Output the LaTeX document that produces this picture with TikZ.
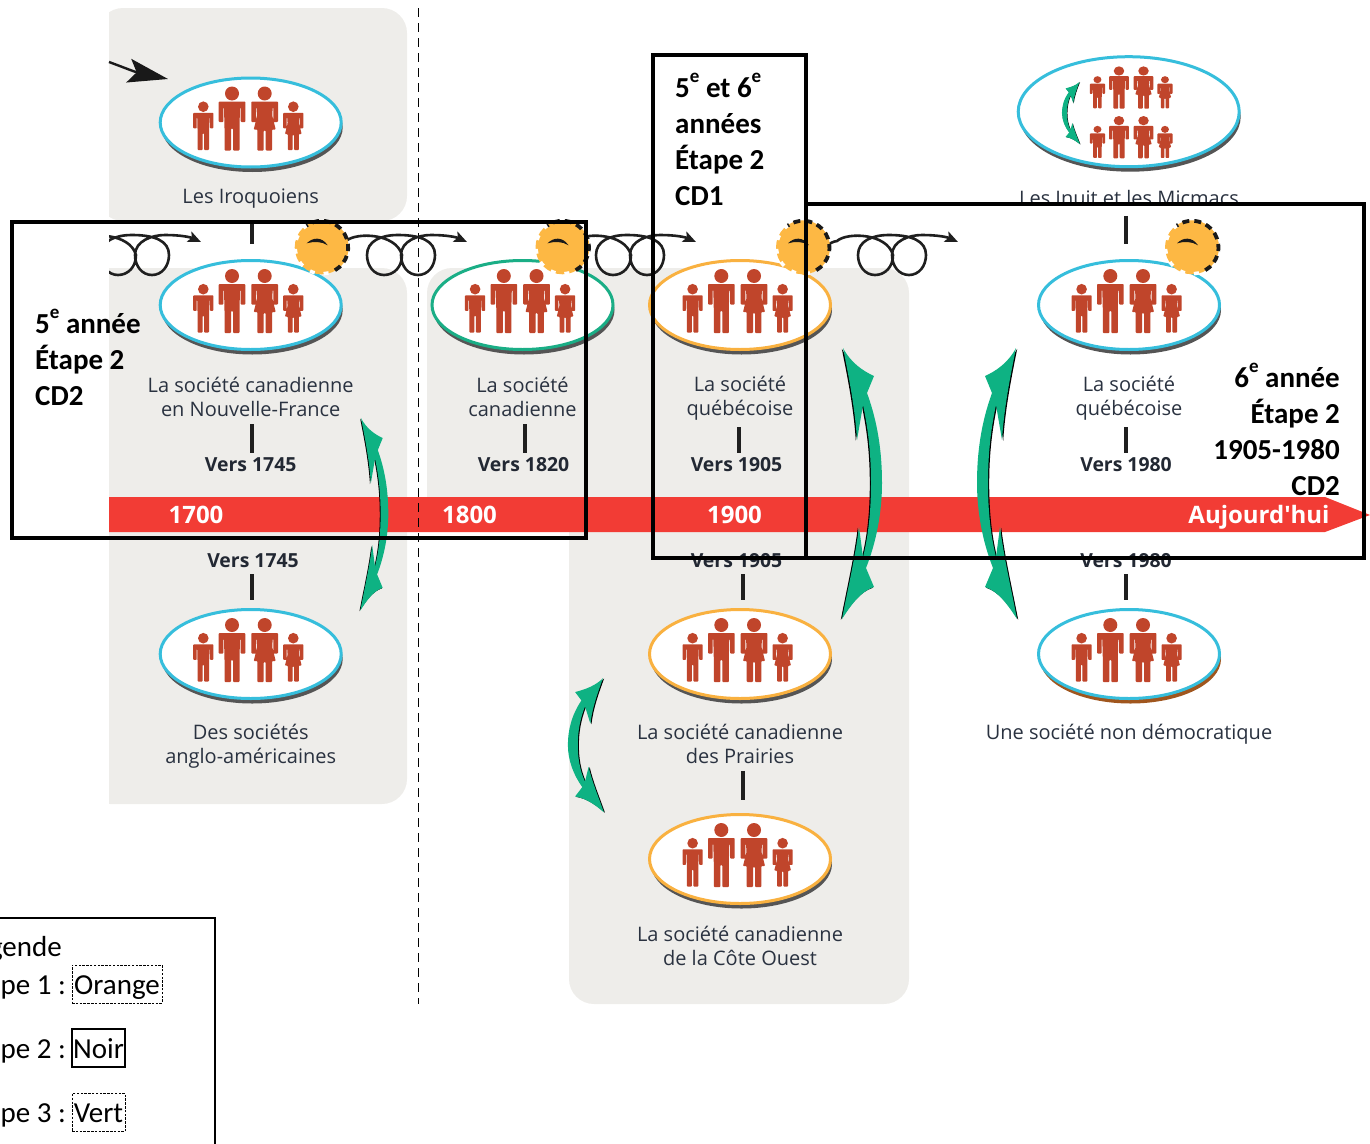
\documentclass[tikz,border=0pt]{standalone}
\usepackage{fontspec}
\setmainfont{Open Sans}
\newfontfamily\calibri{Carlito}
\usetikzlibrary{shapes.geometric,shadows,arrows.meta}

\definecolor{panelgrey}{HTML}{EEEDEA}
\definecolor{barred}{HTML}{F23C35}
\definecolor{skyline}{HTML}{36BEDC}
\definecolor{greenline}{HTML}{1AAE86}
\definecolor{orangeline}{HTML}{F9B140}
\definecolor{sunfill}{HTML}{FDB844}
\definecolor{figurered}{HTML}{C0452B}
\definecolor{arrowgreen}{HTML}{0EB283}
\definecolor{shadowgrey}{HTML}{555555}
\definecolor{shadowbrown}{HTML}{A0561E}
\definecolor{labelink}{HTML}{2A3240}

\newcommand{\manshape}{(-13.3,8) -- (13.3,8) -- (13.3,28.5) -- (8.7,28.5) -- (8.7,14) -- (8,14) -- (7.5,34) -- (7.5,57) -- (1,57) -- (1,35) -- (-1,35) -- (-1,57) -- (-7.5,57) -- (-7.5,34) -- (-8,14) -- (-8.7,14) -- (-8.7,28.5) -- (-13.3,28.5) -- cycle}
\newcommand{\womanshape}{(-13.3,8) -- (13.3,8) -- (13.3,28.5) -- (8.7,28.5) -- (8.7,14) -- (8,14) -- (7.5,22) -- (11,36) -- (7.3,36) -- (7.3,57) -- (1,57) -- (1,37) -- (-1,37) -- (-1,57) -- (-7.3,57) -- (-7.3,36) -- (-11,36) -- (-7.5,22) -- (-8,14) -- (-8.7,14) -- (-8.7,28.5) -- (-13.3,28.5) -- cycle}
\newcommand{\supe}{\raisebox{.5em}{\fontsize{19}{19}\selectfont e}}
\newcommand{\exchangeshape}{(0,-135) .. controls (8,-120) and (20,-112) .. (31,-107) -- (24,-90) .. controls (35,-60) and (39,-30) .. (39,0) .. controls (39,30) and (33,60) .. (23,85) -- (31,104) .. controls (18,108) and (8,122) .. (-1,136) .. controls (6,100) and (12,75) .. (16,44) -- (20,74) .. controls (26,50) and (28,25) .. (28,0) .. controls (28,-25) and (26,-50) .. (20,-78) -- (14,-43) .. controls (12,-75) and (6,-105) .. cycle}

\tikzset{
    panel/.style={fill=panelgrey,rounded corners=25pt},
    soc/.style 2 args={ellipse,draw=#1,line width=3pt,fill=white,inner sep=0pt,minimum width=181pt,minimum height=89pt,
        general shadow={fill=#2,shadow xshift=1.5pt,shadow yshift=-5pt}},
    lbl/.style={inner sep=0pt,align=center,text=labelink,font=\fontsize{20}{24}\selectfont},
    vers/.style={inner sep=0pt,text=labelink!80!black,font=\bfseries\fontsize{19.4}{24}\selectfont},
    year/.style={inner sep=0pt,text=white,font=\bfseries\fontsize{24}{28}\selectfont},
    note/.style={inner sep=0pt,text=black,font=\calibri\bfseries\fontsize{29}{36}\selectfont},
    tick/.style={draw=black!88,line width=3.2pt},
    frame/.style={draw=black,line width=4.5pt},
    keytxt/.style={inner sep=0pt,text=black,font=\calibri\fontsize{29}{34}\selectfont},
    keybox/.style={keytxt,anchor=base,draw=black,line width=.8pt,dash pattern=on 2.5pt off 1.3pt,text height=29pt,text depth=9pt},
    people/.pic={
        \fill[figurered] (-47.4,-15.8) circle[radius=5.3] (-18.7,-29) circle[radius=7] (14,-29) circle[radius=7] (42.6,-15.8) circle[radius=5.3];
        \fill[figurered,rounded corners=.8pt,shift={(-47.4,-15.8)},scale=.76] \manshape;
        \fill[figurered,rounded corners=.8pt,shift={(-18.7,-29)}] \manshape;
        \fill[figurered,rounded corners=.8pt,shift={(14,-29)}] \womanshape;
        \fill[figurered,rounded corners=.8pt,shift={(42.6,-15.8)},scale=.76] \womanshape;
    },
    exchange/.pic={
        \fill[black,shift={(-1.2,.8)}] \exchangeshape;
        \fill[arrowgreen] \exchangeshape;
    },
    coil/.pic={
        \draw[black!88,line width=2.6pt,-{Stealth[length=13pt,width=11pt,inset=3pt]}] (-8,3) .. controls (-4,1) and (-2,0) .. (0,0) .. controls (10,-9) and (50,-8) .. (56,14) .. controls (56,26) and (48,34) .. (38,34) .. controls (28,34) and (21,25) .. (21,14) .. controls (21,0) and (35,-6) .. (52,-6) .. controls (75,-6) and (89,0) .. (89,14) .. controls (89,25) and (82,34) .. (72,34) .. controls (62,34) and (55,25) .. (55,14) .. controls (55,0) and (72,-6) .. (85,-6) .. controls (100,-6) and (110,-4) .. (121,1);
    },
    sunmark/.pic={
        \fill[sunfill] (0,0) circle[radius=27];
        \draw[white,line width=3.5pt,dash pattern=on 5pt off 9pt] (75:26.5) arc[start angle=75,end angle=240,radius=26.5];
        \draw[black!90,line width=3.8pt,dash pattern=on 7pt off 5pt] (60:26.5) arc[start angle=60,end angle=-125,radius=26.5];
        \fill[black!90] (-15,-4) .. controls (-9,-10) and (0,-11) .. (6,-2) .. controls (0,-6) and (-8,-6) .. cycle;
    }
}

\begin{document}
\begin{tikzpicture}[x=1pt,y=-1pt]
    \clip (0,0) rectangle (1370,1143);

    \begin{scope}
        \clip (109,0) rectangle (1370,1143);
        \fill[panel] (98,8) rectangle (407,221);
        \fill[panel] (85,268) rectangle (407,804);
        \fill[panel] (427,505) -- (427,268) -- (909,268) -- (909,1004) -- (569,1004) -- (569,505) -- cycle;
        \fill[panelgrey] (427,300) rectangle (600,505);
        \pic at (80,241) {coil};
    \end{scope}

    \fill[barred] (109,497) -- (1325,497) -- (1370,515) -- (1325,532) -- (109,532) -- cycle;
    \draw[black,line width=.9pt,dash pattern=on 9pt off 6pt] (418,8) -- (418,1004);

    \pic at (346,241) {coil};
    \pic at (575,241) {coil};
    \pic at (837,241) {coil};

    \node[soc={skyline}{shadowgrey}] (socIroq) at (250.7,122.5) {};
    \node[soc={skyline}{shadowgrey}] (socNF) at (250.7,305) {};
    \node[soc={greenline}{shadowgrey}] (socCan) at (522.5,305) {};
    \node[soc={orangeline}{shadowgrey}] (socQc) at (740,305) {};
    \node[soc={skyline}{shadowgrey},minimum width=221pt,minimum height=110pt] (socMic) at (1128.7,111.7) {};
    \node[soc={skyline}{shadowgrey}] (socQcb) at (1129,305) {};
    \node[soc={skyline}{shadowgrey}] (socAA) at (250.7,654) {};
    \node[soc={orangeline}{shadowgrey}] (socPr) at (740,654) {};
    \node[soc={orangeline}{shadowgrey}] (socCB) at (740,859) {};
    \node[soc={skyline}{shadowbrown}] (socND) at (1129,654) {};

    \pic at (250.7,122.5) {people};
    \pic at (250.7,305) {people};
    \pic at (522.5,305) {people};
    \pic at (740,305) {people};
    \pic at (1129,305) {people};
    \pic at (250.7,654) {people};
    \pic at (740,654) {people};
    \pic at (740,859) {people};
    \pic at (1129,654) {people};
    \pic[xscale=.75,yscale=.66] at (1133,90.1) {people};
    \pic[xscale=.75,yscale=.66] at (1133,139.8) {people};

    \pic at (321.7,247.3) {sunmark};
    \pic at (562.5,247.3) {sunmark};
    \pic at (803,247.3) {sunmark};
    \pic at (1192,247.3) {sunmark};

    \node[lbl] (txtIroq) at (250.7,198.5) {Les Iroquoiens};
    \node[lbl] (txtNF) at (250.7,396.5) {La société canadienne\\en Nouvelle-France};
    \node[lbl] (txtCan) at (522.5,396.5) {La société\\canadienne};
    \node[lbl] (txtQc) at (740,398) {La société\\québécoise};
    \node[lbl] (txtQcb) at (1129,398) {La société\\québécoise};
    \node[lbl] (txtMic) at (1129,198) {Les Inuit et les Micmacs};
    \node[lbl] (txtAA) at (250.7,746.5) {Des sociétés\\anglo-américaines};
    \node[lbl] (txtPr) at (740,744) {La société canadienne\\des Prairies};
    \node[lbl] (txtCB) at (740,945.5) {La société canadienne\\de la Côte Ouest};
    \node[lbl] (txtND) at (1129,734.5) {Une société non démocratique};

    \node[vers] (verA) at (250.7,465) {Vers 1745};
    \node[vers] (verB) at (523.5,465) {Vers 1820};
    \node[vers] (verC) at (736.5,465) {Vers 1905};
    \node[vers] (verD) at (1126,465) {Vers 1980};
    \node[vers] (verE) at (253,561) {Vers 1745};
    \node[vers] (verF) at (736.5,561) {Vers 1905};
    \node[vers] (verG) at (1126,561) {Vers 1980};

    \path (txtIroq.south -| 252,0) edge[tick,shorten <=14pt,shorten >=15pt] (socNF.north -| 252,0);
    \path (txtNF.south -| 252,0) edge[tick,shorten <=8pt,shorten >=5pt] (verA.north -| 252,0);
    \path (verE.south -| 252,0) edge[tick,shorten <=6pt,shorten >=8pt] (socAA.north -| 252,0);
    \path (txtCan.south -| 525,0) edge[tick,shorten <=8pt,shorten >=5pt] (verB.north -| 525,0);
    \path (txtQc.south -| 739,0) edge[tick,shorten <=7pt,shorten >=5pt] (verC.north -| 739,0);
    \path (verF.south -| 743,0) edge[tick,shorten <=6pt,shorten >=8pt] (socPr.north -| 743,0);
    \path (txtPr.south -| 743,0) edge[tick,shorten <=7pt,shorten >=13pt] (socCB.north -| 743,0);
    \path (txtMic.south -| 1126,0) edge[tick,shorten <=10pt,shorten >=15pt] (socQcb.north -| 1126,0);
    \path (txtQcb.south -| 1126,0) edge[tick,shorten <=7pt,shorten >=5pt] (verD.north -| 1126,0);
    \path (verG.south -| 1126,0) edge[tick,shorten <=6pt,shorten >=8pt] (socND.north -| 1126,0);

    \node[year] (yrA) at (196,515) {1700};
    \node[year] (yrB) at (469.5,515) {1800};
    \node[year] (yrC) at (734.5,515) {1900};
    \node[year] (yrD) at (1259,517) {Aujourd\textquotesingle hui};

    \coordinate (entryA) at (109,62);
    \coordinate (entryB) at (168,79);
    \draw[black!90,line width=2.4pt,-{Stealth[length=40pt,width=24pt,inset=8pt]}] (entryA) .. controls (120,66) and (135,72) .. (entryB);

    \pic[xscale=.7,yscale=.71] at (361,514) {exchange};
    \pic at (843,483) {exchange};
    \pic[xscale=-1] at (1016,483) {exchange};
    \pic[xscale=-.9,yscale=.495] at (603,745) {exchange};
    \pic[xscale=-.45,yscale=.23] at (1079.5,113) {exchange};

    \draw[frame] (12,222) rectangle (586,538);
    \draw[frame] (653,55) rectangle (806,558);
    \draw[frame] (806,204) rectangle (1364,558);

    \node[note,anchor=north west,align=left] (noteA) at (35,309) {5\supe{} année\\Étape 2\\CD2};
    \node[note,anchor=north west,align=left] (noteB) at (675,73) {5\supe{} et 6\supe\\années\\Étape 2\\CD1};
    \node[note,anchor=north east,align=right] (noteC) at (1340,363) {6\supe{} année\\Étape 2\\1905-1980\\CD2};

    \draw[black,line width=2.2pt] (-5,918) -- (215,918) -- (215,1150);
    \node[keytxt,anchor=base east] (keyT) at (62,956) {Légende};
    \node[keytxt,anchor=base east] (keyA) at (66,994) {Étape 1 :};
    \node[keytxt,anchor=base east] (keyB) at (66,1058) {Étape 2 :};
    \node[keytxt,anchor=base east] (keyC) at (66,1122) {Étape 3 :};
    \node[keybox,minimum width=90pt] (boxA) at (117,994) {Orange};
    \node[keybox,minimum width=53pt,line width=1.8pt,solid] (boxB) at (98.5,1058) {Noir};
    \node[keybox,minimum width=53pt] (boxC) at (98.5,1122.5) {Vert};
\end{tikzpicture}
\end{document}
